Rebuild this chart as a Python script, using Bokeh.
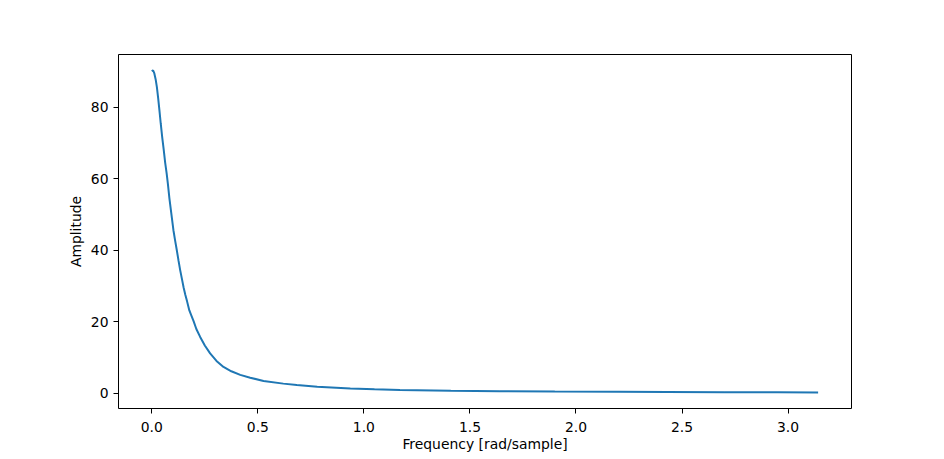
from bokeh.plotting import figure
from bokeh.models import Range1d, FixedTicker, PrintfTickFormatter
from bokeh.embed import file_html
from bokeh.resources import INLINE

freq = [0.0, 0.006, 0.012, 0.018, 0.024, 0.03, 0.036, 0.042, 0.049, 0.056,
        0.063, 0.07, 0.076, 0.083, 0.09, 0.102, 0.11, 0.118, 0.126, 0.134,
        0.142, 0.15, 0.158, 0.166, 0.177, 0.189, 0.197, 0.21, 0.228, 0.25,
        0.275, 0.305, 0.338, 0.375, 0.417, 0.464, 0.527, 0.62, 0.684, 0.78,
        0.936, 1.05, 1.17, 1.41, 1.64, 1.9, 2.2, 2.43, 2.7, 2.95, 3.1416]
amp = [90.0, 90.3, 89.4, 87.8, 85.6, 82.5, 79.1, 75.5, 71.6, 68.2,
       64.5, 61.5, 58.5, 54.5, 51.2, 45.6, 42.7, 40.0, 37.1, 34.4,
       32.0, 29.6, 27.6, 25.8, 23.2, 21.4, 20.2, 18.0, 15.8, 13.4,
       11.2, 9.1, 7.4, 6.2, 5.2, 4.4, 3.5, 2.75, 2.35, 1.9,
       1.4, 1.15, 0.95, 0.75, 0.62, 0.52, 0.45, 0.41, 0.36, 0.32, 0.3]
x_ticks = [0.0, 0.5, 1.0, 1.5, 2.0, 2.5, 3.0]
y_ticks = [0, 20, 40, 60, 80]

p = figure(output_backend="svg", toolbar_location=None,
           frame_width=733, frame_height=354,
           min_border_left=118, min_border_right=85,
           min_border_top=54, min_border_bottom=45,
           x_range=Range1d(-0.157, 3.299), y_range=Range1d(-4.2, 94.7),
           x_axis_label="Frequency [rad/sample]", y_axis_label="Amplitude")

p.line(freq, amp, line_color="#1f77b4", line_width=2)

p.xgrid.visible = False
p.ygrid.visible = False
p.outline_line_color = "black"
p.outline_line_width = 1
p.background_fill_color = "white"
p.border_fill_color = "white"

p.xaxis.ticker = FixedTicker(ticks=x_ticks)
p.xaxis.formatter = PrintfTickFormatter(format="%.1f")
p.yaxis.ticker = FixedTicker(ticks=y_ticks)

for ax in (p.xaxis[0], p.yaxis[0]):
    ax.axis_line_color = None
    ax.major_tick_in = 0
    ax.major_tick_out = 5
    ax.major_tick_line_color = "black"
    ax.minor_tick_line_color = None
    ax.major_label_text_font = "DejaVu Sans"
    ax.major_label_text_font_size = "13.9px"
    ax.major_label_text_color = "black"
    ax.axis_label_text_font = "DejaVu Sans"
    ax.axis_label_text_font_size = "13.9px"
    ax.axis_label_text_font_style = "normal"
    ax.axis_label_text_color = "black"

p.xaxis.major_label_standoff = 8
p.xaxis.axis_label_standoff = 1
p.yaxis.major_label_standoff = 5
p.yaxis.axis_label_standoff = 4

open("out.html", "w").write(file_html(p, INLINE))
